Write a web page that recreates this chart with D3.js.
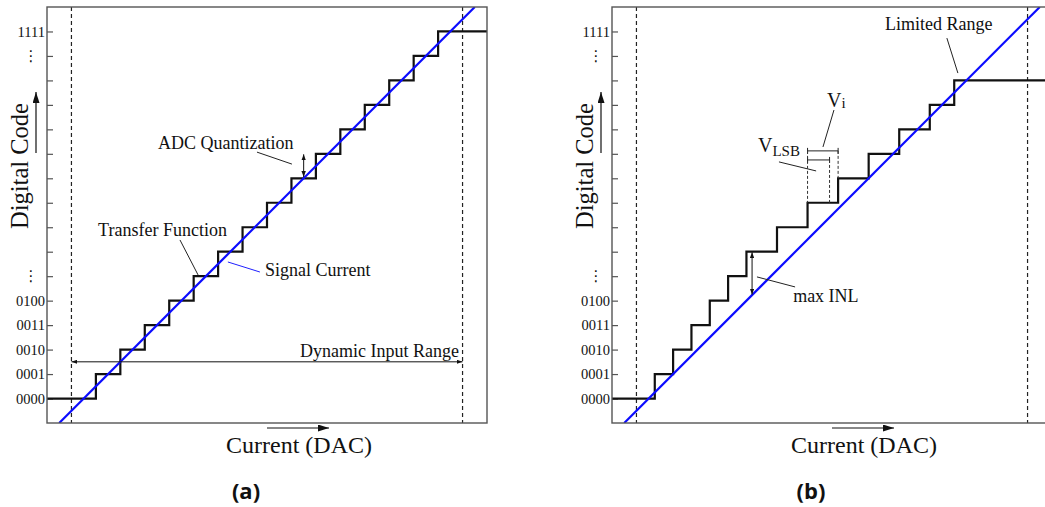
<!DOCTYPE html>
<html>
<head>
<meta charset="utf-8">
<script src="https://cdn.jsdelivr.net/npm/d3@7"></script>
<style>
  body { margin: 0; background: #fff; }
  svg { display: block; }
  .serif { font-family: "Liberation Serif", "DejaVu Serif", serif; fill: #111; }
  .tag { font-family: "Open Sans", "Noto Sans", sans-serif; font-weight: bold; fill: #111; }
</style>
</head>
<body>
<div id="chart"></div>
<script>
// output codes on the y axis (level -> label)
var codeLevels = [0, 1, 2, 3, 4, 5, 6, 7, 8, 9, 10, 11, 12, 13, 14, 15];
var codeLabels = ["0000", "0001", "0010", "0011", "0100", "\u22ee", "", "", "", "", "", "", "", "", "\u22ee", "1111"];

// input current (in LSB) where the code goes up by one
var stepsIdeal = [1, 2, 3, 4, 5, 6, 7, 8, 9, 10, 11, 12, 13, 14, 15];
var stepsReal = [0.75, 1.5, 2.25, 3, 3.75, 4.5, 5.75, 7, 8.25, 9.5, 10.75, 12, 13];

// signal current line, ends given as [current, code]
var signalLine = [[-0.5, -1], [16.5, 16]];

// dynamic input range (LSB)
var inputRange = [0, 16];

var W = 1045, H = 507;
var panelW = 440, panelH = 416, panelTop = 7;

var svg = d3.select("#chart").append("svg")
    .attr("width", W)
    .attr("height", H);

var defs = svg.append("defs");
function addMarker(id, len, half) {
  defs.append("marker")
      .attr("id", id)
      .attr("markerUnits", "userSpaceOnUse")
      .attr("markerWidth", len)
      .attr("markerHeight", half * 2)
      .attr("refX", len)
      .attr("refY", half)
      .attr("orient", "auto-start-reverse")
    .append("path")
      .attr("d", "M0,0L" + len + "," + half + "L0," + (half * 2) + "z")
      .attr("fill", "#111");
}
addMarker("big", 11, 3.5);
addMarker("small", 6, 2.2);

var x = d3.scaleLinear().domain([-1, 17]).range([0, panelW]);
var y = d3.scaleLinear().domain([-1, 16]).range([panelH, 0]);

var line = d3.line()
    .x(function(d) { return x(d[0]); })
    .y(function(d) { return y(d[1]); });

function drawPanel(left, steps, tag, id) {
  var g = svg.append("g").attr("transform", "translate(" + left + "," + panelTop + ")");

  g.append("clipPath").attr("id", "clip" + id)
    .append("rect").attr("width", panelW).attr("height", panelH);

  // y axis, ticks pointing inwards
  var axis = d3.axisLeft(y)
      .tickValues(codeLevels)
      .tickSize(-6)
      .tickPadding(2)
      .tickFormat(function(d) { return codeLabels[d]; });
  var ax = g.append("g").call(axis);
  ax.select(".domain").remove();
  ax.selectAll(".tick line").attr("stroke", "#555").attr("stroke-width", 1.2);
  ax.selectAll(".tick text")
      .attr("class", "serif")
      .style("font-size", "14.5px")
      .attr("fill", "#111");
  ax.selectAll(".tick text").filter(function(d) { return codeLabels[d] === "\u22ee"; })
      .attr("x", -16)
      .attr("text-anchor", "middle")
      .style("font-family", "DejaVu Sans")
      .style("font-size", "15px");

  // range limits
  g.selectAll(".limit").data(inputRange).enter().append("line")
      .attr("x1", function(d) { return x(d); })
      .attr("x2", function(d) { return x(d); })
      .attr("y1", 0)
      .attr("y2", panelH)
      .attr("stroke", "#222")
      .attr("stroke-width", 1.2)
      .attr("stroke-dasharray", "4,3");

  // transfer function
  var pts = [[-1, 0]].concat(steps.map(function(s, i) { return [s, i + 1]; }))
      .concat([[17, steps.length]]);
  g.append("path")
      .attr("clip-path", "url(#clip" + id + ")")
      .attr("d", line.curve(d3.curveStepAfter)(pts))
      .attr("fill", "none")
      .attr("stroke", "#111")
      .attr("stroke-width", 2.2);
  line.curve(d3.curveLinear);

  // signal current
  g.append("path")
      .attr("clip-path", "url(#clip" + id + ")")
      .attr("d", line(signalLine))
      .attr("fill", "none")
      .attr("stroke", "#0b0bff")
      .attr("stroke-width", 2.2);

  g.append("rect")
      .attr("width", panelW)
      .attr("height", panelH)
      .attr("fill", "none")
      .attr("stroke", "#555")
      .attr("stroke-width", 1.4);

  // axis titles
  g.append("text")
      .attr("class", "serif")
      .attr("transform", "translate(-19,159) rotate(-90)")
      .attr("text-anchor", "middle")
      .style("font-size", "24.5px")
      .text("Digital Code");
  g.append("line")
      .attr("x1", -11).attr("x2", -11)
      .attr("y1", 146).attr("y2", 85)
      .attr("stroke", "#111").attr("stroke-width", 1.2)
      .attr("marker-end", "url(#big)");

  g.append("text")
      .attr("class", "serif")
      .attr("x", 252).attr("y", 446)
      .attr("text-anchor", "middle")
      .style("font-size", "24px")
      .text("Current (DAC)");
  g.append("line")
      .attr("x1", 220).attr("x2", 282)
      .attr("y1", 421).attr("y2", 421)
      .attr("stroke", "#111").attr("stroke-width", 1.2)
      .attr("marker-end", "url(#big)");

  g.append("text")
      .attr("class", "tag")
      .attr("x", 199).attr("y", 492)
      .attr("text-anchor", "middle")
      .style("font-size", "22px")
      .text(tag);

  return g;
}

function label(g, u, l, txt, anchor) {
  return g.append("text")
      .attr("class", "serif")
      .attr("x", x(u)).attr("y", y(l))
      .attr("text-anchor", anchor || "start")
      .style("font-size", "18px")
      .text(txt);
}
function leader(g, p, color) {
  g.append("path")
      .attr("d", line(p))
      .attr("fill", "none")
      .attr("stroke", color || "#222")
      .attr("stroke-width", 1);
}
function arrow2(g, p) {
  g.append("path")
      .attr("d", line(p))
      .attr("fill", "none")
      .attr("stroke", "#111")
      .attr("stroke-width", 1)
      .attr("marker-start", "url(#small)")
      .attr("marker-end", "url(#small)");
}

// (a) ideal converter
var ga = drawPanel(47, stepsIdeal, "(a)", "a");
label(ga, 3.54, 10.2, "ADC Quantization");
leader(ga, [[7.59, 10.07], [9.02, 9.58]]);
arrow2(ga, [[9.5, 9.05], [9.5, 9.98]]);
label(ga, 1.09, 6.64, "Transfer Function");
leader(ga, [[4.44, 6.48], [5.18, 5.05]]);
label(ga, 7.92, 5.0, "Signal Current");
leader(ga, [[6.4, 5.58], [7.71, 5.17]], "#2020ff");
label(ga, 15.85, 1.7, "Dynamic Input Range", "end");
arrow2(ga, [[inputRange[0], 1.5], [inputRange[1], 1.5]]);

// (b) converter with non-linearity
var gb = drawPanel(612, stepsReal, "(b)", "b");
label(gb, 10.17, 15.06, "Limited Range");
leader(gb, [[12.7, 14.73], [13.15, 13.3]]);

var vi = label(gb, 7.8, 11.91, "V");
vi.style("font-size", "20px");
vi.append("tspan").attr("dy", 1).style("font-size", "15px").text("i");
leader(gb, [[8.08, 11.79], [7.63, 10.28]]);

var vl = label(gb, 4.97, 10.07, "V");
vl.style("font-size", "20px");
vl.append("tspan").attr("dy", 4).style("font-size", "15px").text("LSB");
leader(gb, [[5.83, 9.67], [7.35, 9.3]]);

// brackets for V_i (real step) and V_LSB (ideal step) on code 8
function bracket(g, u0, u1, l, lEnd1) {
  g.append("path").attr("d", line([[u0, l], [u1, l]]))
      .attr("stroke", "#222").attr("stroke-width", 1).attr("fill", "none");
  [u0, u1].forEach(function(u) {
    g.append("line")
        .attr("x1", x(u)).attr("x2", x(u))
        .attr("y1", y(l) - 3).attr("y2", y(l) + 3)
        .attr("stroke", "#222").attr("stroke-width", 1);
  });
  g.append("path").attr("d", line([[u1, l], [u1, lEnd1]]))
      .attr("stroke", "#333").attr("stroke-width", 1)
      .attr("stroke-dasharray", "3,2").attr("fill", "none");
}
bracket(gb, 7, 8.25, 10.12, 9);
bracket(gb, 7, 7.9, 9.75, 8);
gb.append("path").attr("d", line([[7, 10.12], [7, 8]]))
    .attr("stroke", "#333").attr("stroke-width", 1)
    .attr("stroke-dasharray", "3,2").attr("fill", "none");

label(gb, 6.41, 3.94, "max INL");
leader(gb, [[4.93, 4.97], [6.49, 4.56]]);
arrow2(gb, [[4.73, 5.98], [4.73, 4.25]]);
</script>
</body>
</html>
